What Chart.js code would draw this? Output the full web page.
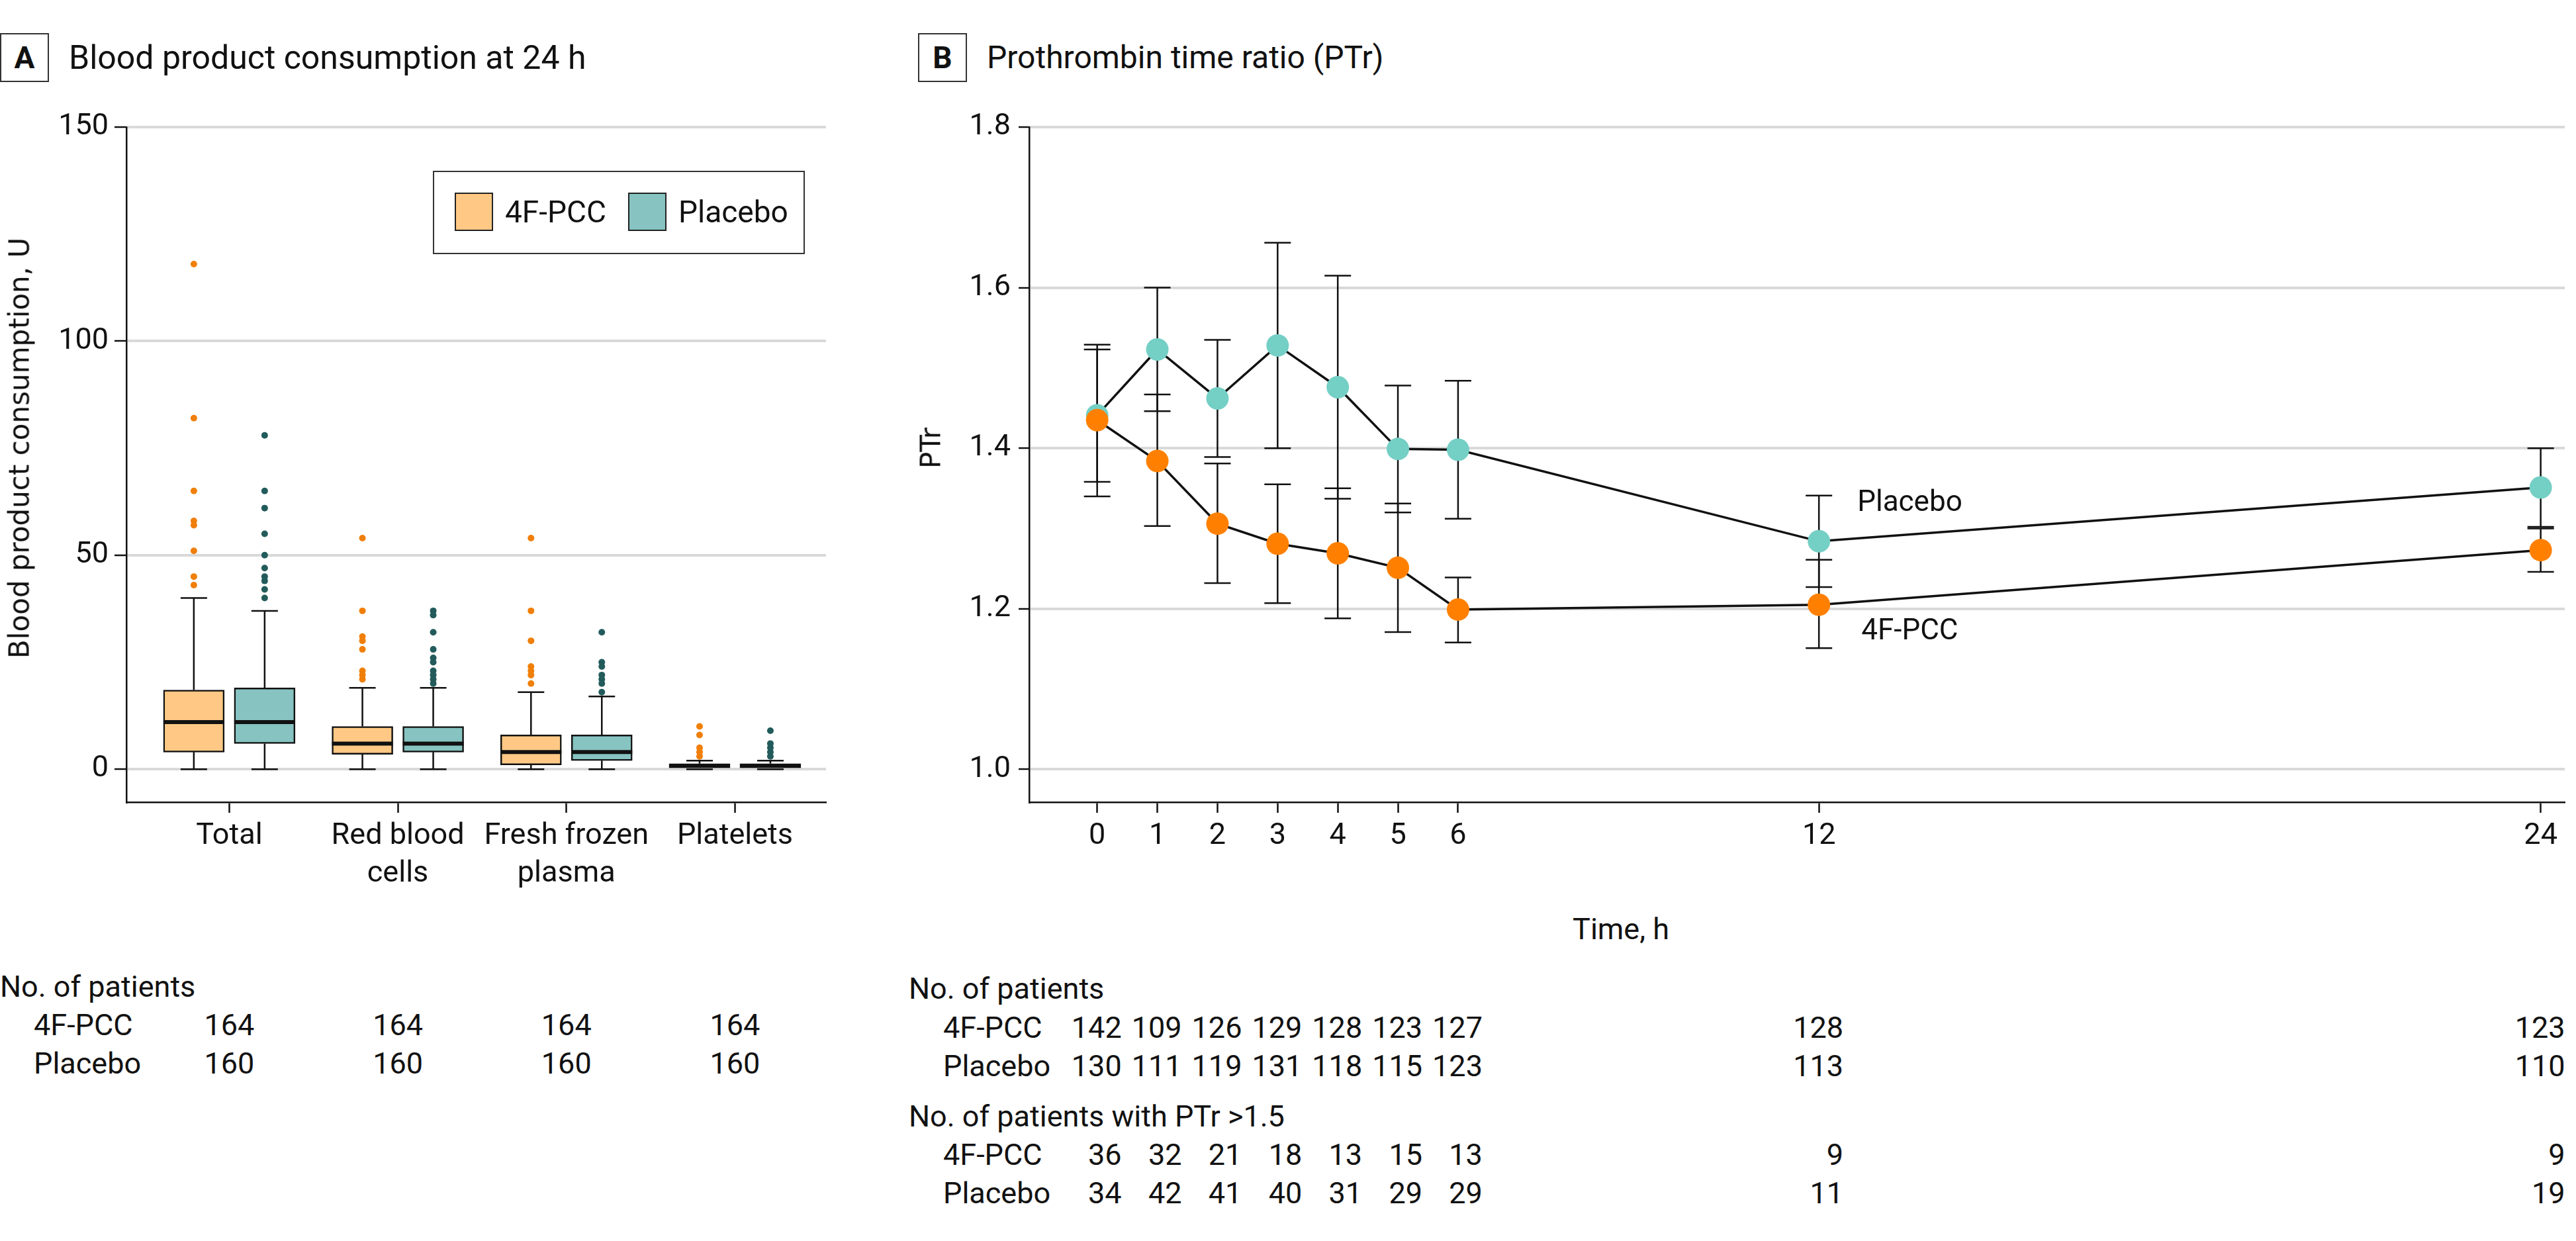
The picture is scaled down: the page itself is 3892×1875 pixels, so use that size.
<!DOCTYPE html>
<html>
<head>
<meta charset="utf-8">
<script src="https://cdn.jsdelivr.net/npm/chart.js@4.4.1/dist/chart.umd.min.js"></script>
<style>
  body { margin: 0; background: #fff; }
  #page { position: relative; width: 3892px; height: 1875px; font-family: Roboto, sans-serif; color: #111; overflow: hidden; }
  .abs { position: absolute; white-space: nowrap; }
  .tag { position: absolute; width: 74px; height: 74px; border: 2.5px solid #333; box-sizing: border-box;
         font: bold 46px Roboto, sans-serif; text-align: center; line-height: 70px; }
  .title { font-size: 50px; line-height: 60px; }
  .txt { font-size: 45px; line-height: 50px; }
  .ytitle { font: 42px "DejaVu Sans", sans-serif; transform: translate(-50%, -50%) rotate(-90deg); }
  #legendA { position: absolute; left: 654px; top: 258px; width: 562px; height: 126px; box-sizing: border-box;
             border: 2.5px solid #333; }
  .sw { position: absolute; top: 31px; width: 58px; height: 58px; box-sizing: border-box; border: 2.5px solid #222; }
  .lt { position: absolute; top: 35px; font-size: 46px; line-height: 50px; }
  canvas { position: absolute; top: 0; }
</style>
</head>
<body>
<div id="page">
  <div class="tag" style="left:0px;top:50px">A</div>
  <div class="abs title" style="left:104px;top:57px">Blood product consumption at 24 h</div>
  <div class="tag" style="left:1387px;top:50px">B</div>
  <div class="abs title" style="left:1491px;top:57px;font-size:48px">Prothrombin time ratio (PTr)</div>

  <canvas id="chartA" width="1262" height="1350" style="left:0px"></canvas>
  <canvas id="chartB" width="2552" height="1350" style="left:1340px"></canvas>

  <div class="abs ytitle" style="left:29px;top:677px">Blood product consumption, U</div>
  <div class="abs ytitle" style="left:1406px;top:677px">PTr</div>
  <div class="abs txt" style="left:2449px;top:1404px;transform:translate(-50%,-50%)">Time, h</div>
  <div id="legendA"></div>
</div>

<script>
// ---- panel A: blood product consumption (box plots) ----
const categories = [['Total'], ['Red blood', 'cells'], ['Fresh frozen', 'plasma'], ['Platelets']]
const groups = ['4F-PCC', 'Placebo']
const boxFill = ['#ffc985', '#86c3c1']
const dotColor = ['#f07f0a', '#235b5b']

// [low whisker, q1, median, q3, high whisker]
const pccBox = [[0, 4, 11, 18.5, 40], [0, 3.5, 6, 10, 19], [0, 1, 4, 8, 18], [0, 0, 0.8, 1.3, 2]]
const placeboBox = [[0, 6, 11, 19, 37], [0, 4, 6, 10, 19], [0, 2, 4, 8, 17], [0, 0, 0.8, 1.3, 2]]
const pccOutliers = [
  [118, 82, 65, 58, 57, 51, 45, 43],
  [54, 37, 31, 30, 28, 23, 22, 21],
  [54, 37, 30, 24, 23, 22, 20],
  [10, 8, 5, 4, 3]
]
const placeboOutliers = [
  [78, 65, 61, 55, 50, 47, 45, 44, 42, 40],
  [37, 36, 32, 28, 26, 25, 23, 22, 21, 20],
  [32, 25, 24, 22, 21, 20, 18],
  [9, 6, 5, 4, 3]
]
const patientsA = [[164, 164, 164, 164], [160, 160, 160, 160]]
const yTicksA = [0, 50, 100, 150]

// ---- panel B: prothrombin time ratio ----
const hours = [0, 1, 2, 3, 4, 5, 6, 12, 24]
const pccPTr = [1.435, 1.384, 1.306, 1.281, 1.269, 1.251, 1.199, 1.205, 1.273]
const pccLow = [1.340, 1.303, 1.232, 1.207, 1.188, 1.171, 1.158, 1.151, 1.246]
const pccHigh = [1.529, 1.467, 1.381, 1.355, 1.350, 1.331, 1.239, 1.261, 1.300]
const placeboPTr = [1.441, 1.523, 1.462, 1.528, 1.476, 1.399, 1.398, 1.284, 1.351]
const placeboLow = [1.358, 1.446, 1.389, 1.400, 1.337, 1.320, 1.312, 1.227, 1.302]
const placeboHigh = [1.523, 1.600, 1.535, 1.656, 1.615, 1.478, 1.484, 1.341, 1.400]
const lineColor = ['#ff8000', '#74cfc5']
const patientsB = [[142, 109, 126, 129, 128, 123, 127, 128, 123], [130, 111, 119, 131, 118, 115, 123, 113, 110]]
const above15 = [[36, 32, 21, 18, 13, 15, 13, 9, 9], [34, 42, 41, 40, 31, 29, 29, 11, 19]]
const yTicksB = [1.0, 1.2, 1.4, 1.6, 1.8]

const INK = '#111'
const tickFont = { family: 'Roboto', size: 45, lineHeight: 1.25 }
const offsets = [-0.21, 0.21]
const boxSets = [pccBox, placeboBox]
const outSets = [pccOutliers, placeboOutliers]

const datasetsA = []
groups.forEach((g, gi) => {
  datasetsA.push({
    type: 'bar', label: g,
    data: boxSets[gi].map((b, ci) => ({ x: ci + 1 + offsets[gi], y: [b[1], b[3]] })),
    backgroundColor: boxFill[gi], borderColor: INK, borderWidth: 2.5, borderSkipped: false,
    barThickness: 92, grouped: false
  })
})
groups.forEach((g, gi) => {
  datasetsA.push({
    type: 'scatter', label: g + ' outliers',
    data: outSets[gi].flatMap((arr, ci) => arr.map(v => ({ x: ci + 1 + offsets[gi], y: v }))),
    pointRadius: 5, pointBackgroundColor: dotColor[gi], pointBorderWidth: 0
  })
})

const whiskerPlugin = {
  id: 'whiskers',
  beforeDatasetsDraw(chart) {
    const { ctx, scales: { x, y } } = chart
    ctx.save()
    ctx.strokeStyle = INK
    ctx.lineWidth = 2.5
    boxSets.forEach((set, gi) => set.forEach((b, ci) => {
      const px = x.getPixelForValue(ci + 1 + offsets[gi])
      const lo = y.getPixelForValue(b[0]), hi = y.getPixelForValue(b[4])
      ctx.beginPath()
      ctx.moveTo(px, lo); ctx.lineTo(px, y.getPixelForValue(b[1]))
      ctx.moveTo(px, hi); ctx.lineTo(px, y.getPixelForValue(b[3]))
      ctx.moveTo(px - 20, lo); ctx.lineTo(px + 20, lo)
      ctx.moveTo(px - 20, hi); ctx.lineTo(px + 20, hi)
      ctx.stroke()
    }))
    ctx.restore()
  },
  afterDatasetsDraw(chart) {
    const { ctx, scales: { x, y } } = chart
    ctx.save()
    ctx.strokeStyle = INK
    ctx.lineWidth = 6
    boxSets.forEach((set, gi) => set.forEach((b, ci) => {
      const px = x.getPixelForValue(ci + 1 + offsets[gi])
      const py = y.getPixelForValue(b[2])
      ctx.beginPath()
      ctx.moveTo(px - 46, py); ctx.lineTo(px + 46, py)
      ctx.stroke()
    }))
    ctx.restore()
  }
}

const chartA = new Chart(document.getElementById('chartA'), {
  type: 'bar',
  data: { datasets: datasetsA },
  plugins: [whiskerPlugin],
  options: {
    responsive: false, animation: false, devicePixelRatio: 1,
    layout: { padding: { top: 192, right: 14, left: 0, bottom: 0 } },
    plugins: { legend: { display: false }, tooltip: { enabled: false } },
    scales: {
      x: {
        type: 'linear', min: 0.39, max: 4.54, offset: false,
        afterBuildTicks: s => { s.ticks = [1, 2, 3, 4].map(v => ({ value: v })) },
        afterFit: s => { s.height = 138 },
        grid: { display: true, offset: false, drawOnChartArea: false, tickLength: 16, tickColor: INK, tickWidth: 2.5 },
        border: { color: INK, width: 2.5 },
        ticks: { callback: (v, i) => categories[i], font: tickFont, color: INK, padding: 8, maxRotation: 0, autoSkip: false }
      },
      y: {
        min: -7.7, max: 150,
        afterBuildTicks: s => { s.ticks = yTicksA.map(v => ({ value: v })) },
        afterFit: s => { s.width = 191 },
        grid: { color: '#d9d9d9', lineWidth: 4, tickColor: INK, tickWidth: 2.5, tickLength: 18 },
        border: { color: INK, width: 2.5 },
        ticks: { font: tickFont, color: INK, padding: 9 }
      }
    }
  }
})

// ---- chart B ----
const lows = [pccLow, placeboLow], highs = [pccHigh, placeboHigh]
const errorPlugin = {
  id: 'errorBars',
  beforeDatasetsDraw(chart) {
    const { ctx, scales: { x, y } } = chart
    ctx.save()
    ctx.strokeStyle = INK
    ctx.lineWidth = 2.5
    lows.forEach((low, gi) => hours.forEach((h, i) => {
      const px = x.getPixelForValue(h)
      const lo = y.getPixelForValue(low[i]), hi = y.getPixelForValue(highs[gi][i])
      ctx.beginPath()
      ctx.moveTo(px, lo); ctx.lineTo(px, hi)
      ctx.moveTo(px - 20, lo); ctx.lineTo(px + 20, lo)
      ctx.moveTo(px - 20, hi); ctx.lineTo(px + 20, hi)
      ctx.stroke()
    }))
    ctx.restore()
  },
  afterDatasetsDraw(chart) {
    const { ctx, scales: { x, y } } = chart
    const last = hours.indexOf(12)
    const px = x.getPixelForValue(12) + 58
    ctx.save()
    ctx.fillStyle = INK
    ctx.font = '44px Roboto'
    ctx.textBaseline = 'middle'
    ctx.fillText('Placebo', px, y.getPixelForValue(placeboPTr[last]) - 57)
    ctx.fillText('4F-PCC', px + 6, y.getPixelForValue(pccPTr[last]) + 41)
    ctx.restore()
  }
}

const chartB = new Chart(document.getElementById('chartB'), {
  type: 'line',
  data: {
    datasets: [pccPTr, placeboPTr].map((vals, gi) => ({
      label: groups[gi],
      data: hours.map((h, i) => ({ x: h, y: vals[i] })),
      borderColor: INK, borderWidth: 3.5, tension: 0,
      pointRadius: 17, pointHoverRadius: 17, pointBorderWidth: 0,
      pointBackgroundColor: lineColor[gi]
    }))
  },
  plugins: [errorPlugin],
  options: {
    responsive: false, animation: false, devicePixelRatio: 1,
    layout: { padding: { top: 192, right: 5, left: 0, bottom: 0 } },
    plugins: { legend: { display: false }, tooltip: { enabled: false } },
    scales: {
      x: {
        type: 'linear', min: -1.13, max: 24.4,
        afterBuildTicks: s => { s.ticks = hours.map(v => ({ value: v })) },
        afterFit: s => { s.height = 138 },
        grid: { display: true, drawOnChartArea: false, tickLength: 16, tickColor: INK, tickWidth: 2.5 },
        border: { color: INK, width: 2.5 },
        ticks: { font: tickFont, color: INK, padding: 8, maxRotation: 0, autoSkip: false }
      },
      y: {
        min: 0.959, max: 1.8,
        afterBuildTicks: s => { s.ticks = yTicksB.map(v => ({ value: v })) },
        afterFit: s => { s.width = 215 },
        grid: { color: '#d9d9d9', lineWidth: 4, tickColor: INK, tickWidth: 2.5, tickLength: 16 },
        border: { color: INK, width: 2.5 },
        ticks: { font: tickFont, color: INK, padding: 12, callback: v => v.toFixed(1) }
      }
    }
  }
})

// ---- legend and tables (HTML text placed from the chart scales) ----
const page = document.getElementById('page')
function addText(text, left, top, align) {
  const d = document.createElement('div')
  d.className = 'abs txt'
  d.textContent = text
  d.style.left = left + 'px'
  d.style.top = (top - 25) + 'px'
  if (align === 'center') d.style.transform = 'translateX(-50%)'
  if (align === 'right') d.style.transform = 'translateX(-100%)'
  page.appendChild(d)
}

const legendA = document.getElementById('legendA')
const swLeft = [31, 293]
groups.forEach((g, gi) => {
  const sw = document.createElement('div')
  sw.className = 'sw'
  sw.style.left = swLeft[gi] + 'px'
  sw.style.background = boxFill[gi]
  legendA.appendChild(sw)
  const t = document.createElement('div')
  t.className = 'lt'
  t.style.left = (swLeft[gi] + 76) + 'px'
  t.textContent = g
  legendA.appendChild(t)
})

const rowA = [1549, 1607]
addText('No. of patients', 0, 1491)
groups.forEach((g, gi) => {
  addText(g, 51, rowA[gi])
  patientsA[gi].forEach((n, ci) => {
    addText(String(n), chartA.scales.x.getPixelForValue(ci + 1), rowA[gi], 'center')
  })
})

const leftB = 1340
function tableB(title, titleY, rows, rowsY) {
  addText(title, 1373, titleY)
  groups.forEach((g, gi) => {
    addText(g, 1425, rowsY[gi])
    rows[gi].forEach((n, i) => {
      addText(String(n), leftB + chartB.scales.x.getPixelForValue(hours[i]) + 37, rowsY[gi], 'right')
    })
  })
}
tableB('No. of patients', 1494, patientsB, [1553, 1611])
tableB('No. of patients with PTr >1.5', 1687, above15, [1745, 1803])
</script>
</body>
</html>
